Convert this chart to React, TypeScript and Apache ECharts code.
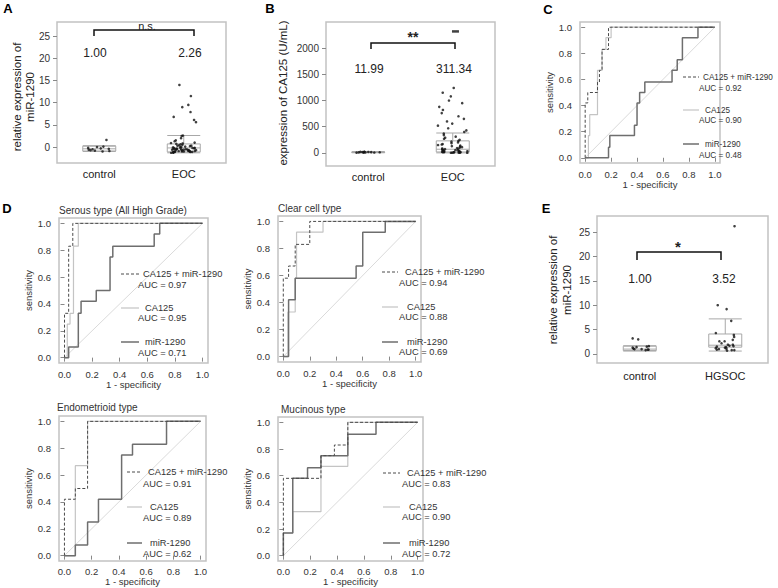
import React, { useEffect, useRef } from 'react';
import * as echarts from 'echarts';

const FONT = '"Liberation Sans", Arial, Helvetica, sans-serif';

// ---------- Panel A : miR-1290 (control vs EOC) ----------
const aCategories = ['control', 'EOC'];
const aControl = [1.6, 0.1, -0.2, -0.4, -0.5, -0.7, -0.8, -0.9, -1.0, -0.6, -0.3, 0.0];
const aEOC = [14.0, 11.5, 9.5, 9.0, 7.9, 6.8, 6.1, 5.6,
  2.6, 2.5, 2.0, 1.5, 1.3, 1.0, 0.9, 0.8, 0.6, 0.5, 0.4, 0.3, 0.2, 0.1, 0.0, 0.0, -0.1, -0.2, -0.2,
  -0.3, -0.3, -0.4, -0.4, -0.5, -0.5, -0.5, -0.6, -0.6, -0.7, -0.7, -0.7, -0.8, -0.8, -0.8, -0.9,
  -0.9, -0.9, -1.0, -1.0, -1.0, -1.0, -1.1, -1.1, -1.1, -1.2, -1.2, -1.2, -1.3, -0.6, -0.4, 0.3, 0.7, -0.2];
const aBoxes = [[-1.0, -0.9, -0.4, 0.2, 0.3], [-1.3, -1.1, -0.2, 0.7, 2.6]];
const aMeans = ['1.00', '2.26'];
const aTicks = [0, 5, 10, 15, 20, 25];

// ---------- Panel B : CA125 ----------
const bCategories = ['control', 'EOC'];
const bControl = [5, 8, 10, 12, 14, 15, 18, 20, 9, 11, 25, 7];
const bEOC = [1240, 1150, 1080, 1000, 950, 880, 820, 760, 700, 650, 600, 560, 520, 470, 430, 400,
  370, 340, 310, 290, 270, 250, 230, 215, 200, 185, 170, 160, 150, 140, 130, 120, 110, 100, 92, 85,
  78, 72, 66, 60, 55, 50, 45, 40, 36, 32, 28, 25, 22, 19, 16, 14, 12, 10, 8, 6, 5, 4, 3, 2];
const bEOCTop = [2320];
const bBoxes = [[3, 8, 11, 16, 25], [1, 18, 70, 230, 380]];
const bMeans = ['11.99', '311.34'];
const bTicks = [0, 500, 1000, 1500, 2000];

// ---------- Panel E : miR-1290 (control vs HGSOC) ----------
const eCategories = ['control', 'HGSOC'];
const eControl = [3.2, 3.0, 1.6, 1.5, 1.4, 1.3, 1.1, 1.0, 1.0, 0.9, 0.9, 0.8];
const eHGSOC = [26.2, 10.0, 9.2, 6.8, 4.3, 3.9, 3.5, 2.9, 2.6, 2.6, 2.2, 1.9, 1.9, 1.7, 1.6, 1.5,
  1.4, 1.3, 1.2, 1.1, 1.0, 0.9, 0.8, 0.8, 0.7];
const eBoxes = [[0.6, 0.7, 1.0, 1.6, 1.7], [0.6, 1.4, 1.8, 4.1, 7.2]];
const eMeans = ['1.00', '3.52'];
const eTicks = [0, 5, 10, 15, 20, 25];

// ---------- ROC curves [1 - specificity, sensitivity] ----------
const rocTicks = [0, 0.2, 0.4, 0.6, 0.8, 1.0];
const rocLabels = ['CA125 + miR-1290', 'CA125', 'miR-1290'];
const diagonal = [[0, 0], [1, 1]];

const cCombo = [[0, 0], [0, 0.42], [0.02, 0.42], [0.02, 0.5], [0.095, 0.5], [0.095, 0.58], [0.11, 0.58], [0.11, 0.67], [0.13, 0.67], [0.13, 0.83], [0.18, 0.83], [0.18, 1], [1, 1]];
const cCa125 = [[0, 0], [0.025, 0], [0.025, 0.17], [0.035, 0.17], [0.035, 0.33], [0.095, 0.33], [0.095, 0.67], [0.13, 0.67], [0.13, 0.83], [0.16, 0.83], [0.16, 0.92], [0.2, 0.92], [0.2, 1], [1, 1]];
const cMir = [[0, 0], [0.18, 0], [0.18, 0.08], [0.19, 0.08], [0.19, 0.17], [0.38, 0.17], [0.38, 0.25], [0.4, 0.25], [0.4, 0.42], [0.42, 0.42], [0.42, 0.5], [0.46, 0.5], [0.46, 0.58], [0.67, 0.58], [0.67, 0.67], [0.71, 0.67], [0.71, 0.75], [0.75, 0.75], [0.75, 0.92], [0.87, 0.92], [0.87, 1], [1, 1]];
const cAuc = [0.92, 0.90, 0.48];

const serCombo = [[0, 0], [0, 0.33], [0.03, 0.33], [0.03, 0.83], [0.06, 0.83], [0.06, 1], [1, 1]];
const serCa125 = [[0, 0], [0.02, 0], [0.02, 0.25], [0.04, 0.25], [0.04, 0.33], [0.065, 0.33], [0.065, 0.83], [0.1, 0.83], [0.1, 1], [1, 1]];
const serMir = [[0, 0], [0.03, 0], [0.03, 0.08], [0.1, 0.08], [0.1, 0.33], [0.12, 0.33], [0.12, 0.42], [0.23, 0.42], [0.23, 0.5], [0.33, 0.5], [0.33, 0.75], [0.35, 0.75], [0.35, 0.83], [0.65, 0.83], [0.65, 0.92], [0.69, 0.92], [0.69, 1], [1, 1]];
const serAuc = [0.97, 0.95, 0.71];

const clrCombo = [[0, 0], [0, 0.58], [0.04, 0.58], [0.04, 0.67], [0.09, 0.67], [0.09, 0.83], [0.2, 0.83], [0.2, 1], [1, 1]];
const clrCa125 = [[0, 0], [0.035, 0], [0.035, 0.33], [0.09, 0.33], [0.09, 0.58], [0.1, 0.58], [0.1, 0.92], [0.3, 0.92], [0.3, 1], [1, 1]];
const clrMir = [[0, 0], [0.04, 0], [0.04, 0.42], [0.09, 0.42], [0.09, 0.58], [0.55, 0.58], [0.55, 0.67], [0.6, 0.67], [0.6, 0.92], [0.77, 0.92], [0.77, 1], [1, 1]];
const clrAuc = [0.94, 0.88, 0.69];

const endCombo = [[0, 0], [0, 0.42], [0.08, 0.42], [0.08, 0.5], [0.17, 0.5], [0.17, 1], [1, 1]];
const endCa125 = [[0, 0], [0.08, 0], [0.08, 0.67], [0.17, 0.67], [0.17, 1], [1, 1]];
const endMir = [[0, 0], [0.08, 0], [0.08, 0.08], [0.17, 0.08], [0.17, 0.25], [0.25, 0.25], [0.25, 0.42], [0.42, 0.42], [0.42, 0.75], [0.5, 0.75], [0.5, 0.83], [0.75, 0.83], [0.75, 1], [1, 1]];
const endAuc = [0.91, 0.89, 0.62];

const mucCombo = [[0, 0], [0, 0.58], [0.28, 0.58], [0.28, 0.75], [0.38, 0.75], [0.38, 0.83], [0.48, 0.83], [0.48, 1], [1, 1]];
const mucCa125 = [[0, 0], [0, 0.17], [0.07, 0.17], [0.07, 0.33], [0.28, 0.33], [0.28, 0.67], [0.48, 0.67], [0.48, 1], [1, 1]];
const mucMir = [[0, 0], [0, 0.17], [0.07, 0.17], [0.07, 0.58], [0.18, 0.58], [0.18, 0.66], [0.28, 0.66], [0.28, 0.75], [0.48, 0.75], [0.48, 0.91], [0.69, 0.91], [0.69, 1], [1, 1]];
const mucAuc = [0.83, 0.90, 0.72];

// ---------- styles ----------
const comboStyle = { color: '#4a4a4a', width: 1, type: [3, 2] };
const caStyle = { color: '#c4c4c4', width: 1.2, type: 'solid' };
const mirStyle = { color: '#6e6e6e', width: 1.5, type: 'solid' };
const diagStyle = { color: '#dadada', width: 1, type: 'solid' };
const BORDER = '#c2c2c2';

function buildOption() {
  const grids = [
    { left: 57, top: 22, width: 169, height: 141 },   // A
    { left: 326, top: 22, width: 169, height: 144 },  // B
    { left: 580, top: 22, width: 140, height: 141 },  // C
    { left: 59, top: 218, width: 149, height: 145 },  // D serous
    { left: 278, top: 216, width: 143, height: 146 }, // D clear
    { left: 59, top: 416, width: 147, height: 145 },  // D endometrioid
    { left: 278, top: 417, width: 145, height: 144 }, // D mucinous
    { left: 597, top: 216, width: 171, height: 147 }, // E
  ].map((g) => ({ ...g, show: true, borderColor: BORDER, borderWidth: 1.5, backgroundColor: 'rgba(0,0,0,0)', containLabel: false, outerBoundsMode: 'none' }));

  const xAxes: any[] = [];
  const yAxes: any[] = [];
  const series: any[] = [];
  const graphic: any[] = [];

  const text = (x: number, y: number, t: string, o: any = {}, rot = 0) => ({
    type: 'text', x, y, rotation: rot, silent: true, z: 100,
    style: { text: t, fontFamily: FONT, fontSize: 10, fill: '#222', align: 'center', verticalAlign: 'middle', ...o },
  });
  const poly = (pts: number[][], o: any = {}) => ({
    type: 'polyline', silent: true, z: 100, shape: { points: pts },
    style: { stroke: '#111', lineWidth: 1.5, fill: null, ...o },
  });

  // ----- box panels -----
  const boxPanel = (gi: number, cats: string[], ticks: number[], min: number, max: number,
    boxes: number[][], groupA: number[], groupB: number[], jitter: number, labelMargin: number) => {
    xAxes[gi] = {
      gridIndex: gi, type: 'category', data: cats, jitter, jitterOverlap: true,
      axisLine: { show: false }, axisTick: { show: false },
      axisLabel: { fontFamily: FONT, fontSize: 11, color: '#222', margin: labelMargin },
      splitLine: { show: false },
    };
    yAxes[gi] = {
      gridIndex: gi, type: 'value', min, max,
      axisLine: { show: false },
      axisTick: { show: true, length: 4, customValues: ticks, lineStyle: { color: '#888' } },
      axisLabel: { customValues: ticks, fontFamily: FONT, fontSize: 10, color: '#333', margin: 7, formatter: (v: number) => String(v) },
      splitLine: { show: false },
    };
    series.push({
      type: 'boxplot', xAxisIndex: gi, yAxisIndex: gi, data: boxes, boxWidth: [33, 33],
      itemStyle: { color: 'rgba(255,255,255,0)', borderColor: '#a8a8a8', borderWidth: 1 },
      emphasis: { disabled: true }, silent: true,
    });
    series.push({
      type: 'scatter', xAxisIndex: gi, yAxisIndex: gi, symbolSize: 2.6, silent: true,
      itemStyle: { color: '#111' },
      data: [...groupA.map((v) => [0, v]), ...groupB.map((v) => [1, v])],
    });
  };

  boxPanel(0, aCategories, aTicks, -3.6, 28.2, aBoxes, aControl, aEOC, 26, 5);
  boxPanel(1, bCategories, bTicks, -250, 2500, bBoxes, bControl, bEOC, 30, 5);
  series.push({
    type: 'scatter', xAxisIndex: 1, yAxisIndex: 1, symbol: 'rect', symbolSize: [7, 2.5], silent: true,
    itemStyle: { color: '#111' }, data: bEOCTop.map((v) => [1, v]),
  });
  boxPanel(7, eCategories, eTicks, -1.85, 28.3, eBoxes, eControl, eHGSOC, 20, 7);

  // ----- ROC panels -----
  const rocPanel = (gi: number, combo: number[][], ca: number[][], mir: number[][], auc: number[],
    yGap: number, xGap: number, xMargin: number, lg: any) => {
    xAxes[gi] = {
      gridIndex: gi, type: 'value', min: -0.04, max: 1.04,
      name: '1 - specificity', nameLocation: 'middle', nameGap: xGap,
      nameTextStyle: { fontFamily: FONT, fontSize: 9.5, color: '#333' },
      axisLine: { show: false },
      axisTick: { show: true, length: 4, customValues: rocTicks, lineStyle: { color: '#888' } },
      axisLabel: { customValues: rocTicks, fontFamily: FONT, fontSize: 9.5, color: '#333', margin: xMargin, formatter: (v: number) => v.toFixed(1) },
      splitLine: { show: false },
    };
    yAxes[gi] = {
      gridIndex: gi, type: 'value', min: -0.04, max: 1.04,
      name: 'sensitivity', nameLocation: 'middle', nameGap: yGap,
      nameTextStyle: { fontFamily: FONT, fontSize: 9.5, color: '#333' },
      axisLine: { show: false },
      axisTick: { show: true, length: 4, customValues: rocTicks, lineStyle: { color: '#888' } },
      axisLabel: { customValues: rocTicks, fontFamily: FONT, fontSize: 9.5, color: '#333', margin: 8, formatter: (v: number) => v.toFixed(1) },
      splitLine: { show: false },
    };
    const line = (data: number[][], ls: any) => ({
      type: 'line', xAxisIndex: gi, yAxisIndex: gi, data, symbol: 'none', showSymbol: false,
      lineStyle: ls, silent: true, emphasis: { disabled: true },
    });
    series.push(line(diagonal, diagStyle));
    series.push(line(ca, caStyle));
    series.push(line(mir, mirStyle));
    series.push(line(combo, comboStyle));

    const styles = [comboStyle, caStyle, mirStyle];
    styles.forEach((s, i) => {
      graphic.push({
        type: 'line', silent: true, z: 100,
        shape: { x1: lg.sx1, y1: lg.ys[i], x2: lg.sx2, y2: lg.ys[i] },
        style: { stroke: s.color, lineWidth: s.width, lineDash: Array.isArray(s.type) ? s.type : null },
      });
      graphic.push(text(lg.tx + (i === 0 ? 0 : 2), lg.ys[i], rocLabels[i], { align: 'left', fontSize: lg.fs, fill: '#333' }));
      graphic.push(text(lg.ax, lg.ay[i], 'AUC = ' + auc[i].toFixed(2), { align: 'left', fontSize: lg.fs, fill: '#333' }));
    });
  };

  rocPanel(2, cCombo, cCa125, cMir, cAuc, 22, 12, 6, { fs: 8.2, sx1: 683, sx2: 699, tx: 703, ax: 699, ys: [77, 110, 144], ay: [88, 120, 155] });
  rocPanel(3, serCombo, serCa125, serMir, serAuc, 19, 14, 6, { fs: 9.3, sx1: 121, sx2: 139, tx: 143, ax: 138, ys: [274, 308, 342], ay: [285, 318, 353] });
  rocPanel(4, clrCombo, clrCa125, clrMir, clrAuc, 20, 15, 6, { fs: 9.3, sx1: 382, sx2: 398, tx: 405, ax: 399, ys: [272, 307, 342], ay: [283, 317, 352] });
  rocPanel(5, endCombo, endCa125, endMir, endAuc, 21, 11, 5, { fs: 9.3, sx1: 127, sx2: 142, tx: 148, ax: 143, ys: [472, 507, 543], ay: [484, 518, 554] });
  rocPanel(6, mucCombo, mucCa125, mucMir, mucAuc, 20, 11, 5, { fs: 9.3, sx1: 383, sx2: 400, tx: 407, ax: 402, ys: [473, 507, 543], ay: [484, 517, 554] });

  // ----- titles / annotations -----
  const bold = { fontSize: 13, fontWeight: 'bold', fill: '#000' };
  graphic.push(text(8, 8, 'A', bold));
  graphic.push(text(270, 8, 'B', bold));
  graphic.push(text(548, 9, 'C', bold));
  graphic.push(text(7, 208, 'D', bold));
  graphic.push(text(546, 208, 'E', bold));

  graphic.push(text(59, 210, 'Serous type (All High Grade)', { align: 'left', fontSize: 10, fill: '#333' }));
  graphic.push(text(278, 208, 'Clear cell type', { align: 'left', fontSize: 10, fill: '#333' }));
  graphic.push(text(57, 407, 'Endometrioid type', { align: 'left', fontSize: 10, fill: '#333' }));
  graphic.push(text(281, 409, 'Mucinous type', { align: 'left', fontSize: 10, fill: '#333' }));

  // y-axis titles for box panels
  graphic.push(text(23.5, 97, 'relative expression of\nmiR-1290', { fontSize: 11.5, lineHeight: 13 }, Math.PI / 2));
  graphic.push(text(283, 93, 'expression of CA125 (U/mL)', { fontSize: 11.5 }, Math.PI / 2));
  graphic.push(text(559.5, 290, 'relative expression of\nmiR-1290', { fontSize: 11.5, lineHeight: 14 }, Math.PI / 2));

  // brackets & significance
  graphic.push(poly([[94, 36], [94, 30], [194, 30], [194, 36]]));
  graphic.push(text(147, 26, 'n.s.', { fontSize: 11 }));
  graphic.push(poly([[371, 49], [371, 43], [455, 43], [455, 49]]));
  graphic.push(text(413, 37, '**', { fontSize: 14, fontWeight: 'bold' }));
  graphic.push(poly([[637, 260], [637, 252], [721, 252], [721, 260]]));
  graphic.push(text(678, 246, '*', { fontSize: 15, fontWeight: 'bold' }));

  // means
  graphic.push(text(95, 53, aMeans[0], { fontSize: 12 }));
  graphic.push(text(190, 53, aMeans[1], { fontSize: 12 }));
  graphic.push(text(369, 69, bMeans[0], { fontSize: 12 }));
  graphic.push(text(454, 69, bMeans[1], { fontSize: 12 }));
  graphic.push(text(640, 279, eMeans[0], { fontSize: 12 }));
  graphic.push(text(724, 279, eMeans[1], { fontSize: 12 }));

  return {
    animation: false,
    backgroundColor: '#fff',
    textStyle: { fontFamily: FONT },
    grid: grids,
    xAxis: xAxes,
    yAxis: yAxes,
    series,
    graphic,
  };
}

export default function App() {
  const ref = useRef<HTMLDivElement>(null);
  useEffect(() => {
    if (!ref.current) return;
    const chart = echarts.init(ref.current, null, { renderer: 'svg' });
    chart.setOption(buildOption() as any);
    return () => chart.dispose();
  }, []);
  return (
    <div
      ref={ref}
      style={{ position: 'absolute', left: 0, top: 0, width: 778, height: 588, background: '#fff' }}
    />
  );
}
